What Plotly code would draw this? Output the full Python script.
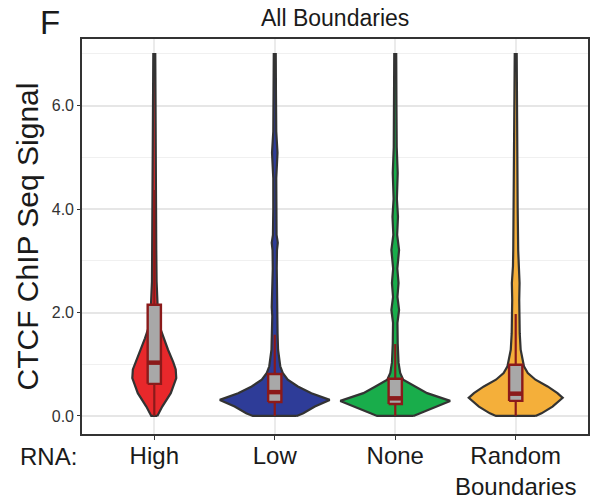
import plotly.graph_objects as go

# Categories and fill colours
categories = ["High", "Low", "None", "Random<br>Boundaries"]
colors = ["#E8282B", "#2E3C98", "#19AD4B", "#F4AF3A"]

# Kernel density profiles of the CTCF signal (relative density per signal level)
high_levels = [0, 0.18, 0.44, 0.73, 0.9, 1.04, 1.28, 1.5, 1.73, 2.15, 2.6, 3.2, 4.5, 5.5, 7.0]
high_density = [0.055, 0.145, 0.30, 0.40, 0.39, 0.345, 0.25, 0.17, 0.096, 0.06, 0.042, 0.036, 0.027, 0.022, 0.018]

low_levels = [0, 0.05, 0.18, 0.31, 0.44, 0.57, 0.70, 0.83, 0.96, 1.28, 1.6, 1.93, 2.1, 2.3, 2.57, 2.85,
              3.2, 3.35, 3.5, 4.0, 4.6, 5.09, 5.5, 6.2, 7.0]
low_density = [0.40, 0.52, 0.73, 1.0, 0.667, 0.42, 0.236, 0.145, 0.10, 0.06, 0.051, 0.045, 0.055, 0.04,
               0.045, 0.036, 0.04, 0.055, 0.033, 0.027, 0.027, 0.05, 0.027, 0.022, 0.018]

none_levels = [0, 0.05, 0.18, 0.29, 0.44, 0.57, 0.70, 0.83, 1.03, 1.4, 1.8, 2.05, 2.3, 2.57, 2.85,
               3.21, 3.5, 3.85, 4.2, 4.7, 5.2, 6.0, 7.0]
none_density = [0.33, 0.45, 0.76, 1.0, 0.58, 0.36, 0.145, 0.09, 0.06, 0.045, 0.04, 0.07, 0.04, 0.06, 0.038,
                0.07, 0.035, 0.05, 0.03, 0.045, 0.027, 0.022, 0.018]

random_levels = [0, 0.05, 0.18, 0.35, 0.44, 0.57, 0.70, 0.83, 0.96, 1.09, 1.28, 1.6, 1.9, 2.24, 2.57,
                 2.9, 3.2, 4.0, 5.0, 6.0, 7.0]
random_density = [0.36, 0.47, 0.67, 0.855, 0.76, 0.58, 0.36, 0.22, 0.15, 0.12, 0.09, 0.073, 0.064, 0.064,
                  0.07, 0.05, 0.045, 0.036, 0.027, 0.022, 0.018]

# Box-plot summaries
q1 = [0.62, 0.27, 0.23, 0.29]
median = [1.03, 0.46, 0.34, 0.43]
q3 = [2.15, 0.81, 0.72, 0.99]
lower_whisker = [0.0, 0.0, 0.0, 0.0]
upper_whisker = [4.37, 1.57, 1.39, 1.97]

levels = [high_levels, low_levels, none_levels, random_levels]
densities = [high_density, low_density, none_density, random_density]

VIOLIN_HALF_WIDTH = 0.456
BOX_WIDTH = 0.11
BOX_LINE = "#8B1A1A"

fig = go.Figure()

# violins
for i, (lv, dn, col) in enumerate(zip(levels, densities, colors)):
    pos = i + 1
    right = [pos + d * VIOLIN_HALF_WIDTH for d in dn]
    left = [pos - d * VIOLIN_HALF_WIDTH for d in dn]
    xs = right + left[::-1] + [right[0]]
    ys = lv + lv[::-1] + [lv[0]]
    fig.add_trace(go.Scatter(
        x=xs, y=ys, mode="lines", fill="toself", fillcolor=col,
        line=dict(color="#333333", width=2.2), hoverinfo="skip", showlegend=False,
    ))

# boxes drawn on top of the violins
for i in range(len(categories)):
    pos = i + 1
    x0, x1 = pos - BOX_WIDTH / 2, pos + BOX_WIDTH / 2
    # whiskers
    fig.add_trace(go.Scatter(
        x=[pos, pos, None, pos, pos],
        y=[q3[i], upper_whisker[i], None, q1[i], lower_whisker[i]],
        mode="lines", line=dict(color=BOX_LINE, width=2.2), hoverinfo="skip", showlegend=False,
    ))
    # interquartile box
    fig.add_trace(go.Scatter(
        x=[x0, x1, x1, x0, x0], y=[q1[i], q1[i], q3[i], q3[i], q1[i]],
        mode="lines", fill="toself", fillcolor="#A8A8A8",
        line=dict(color=BOX_LINE, width=2.4), hoverinfo="skip", showlegend=False,
    ))
    # median bar
    fig.add_trace(go.Scatter(
        x=[x0, x1], y=[median[i], median[i]],
        mode="lines", line=dict(color=BOX_LINE, width=4.5), hoverinfo="skip", showlegend=False,
    ))

font_family = "Liberation Sans, Arial, sans-serif"

fig.update_layout(
    width=593, height=503,
    margin=dict(l=82, r=5, t=39, b=69),
    paper_bgcolor="white", plot_bgcolor="white",
    font=dict(family=font_family, color="#1a1a1a"),
    xaxis=dict(
        range=[0.4, 4.6], tickmode="array", tickvals=[1, 2, 3, 4], ticktext=categories,
        showgrid=True, gridcolor="#EBEBEB", gridwidth=1.5,
        showline=True, linecolor="#333333", linewidth=1.6, mirror=True,
        ticks="outside", ticklen=4, tickcolor="#333333", tickwidth=1,
        ticklabelstandoff=-5,
        tickfont=dict(size=24, color="#1a1a1a"), zeroline=False, automargin=False,
    ),
    yaxis=dict(
        range=[-0.35, 7.29], tickmode="array", tickvals=[0, 2, 4, 6],
        ticktext=["0.0", "2.0", "4.0", "6.0"],
        showgrid=True, gridcolor="#E6E6E6", gridwidth=1.5,
        minor=dict(tickmode="array", tickvals=[1, 3, 5, 7], showgrid=True,
                   gridcolor="#F0F0F0", gridwidth=1),
        showline=True, linecolor="#333333", linewidth=1.6, mirror=True,
        ticks="outside", ticklen=3, tickcolor="#333333", tickwidth=1,
        tickfont=dict(size=16, color="#333333"), zeroline=False, automargin=False,
        title=dict(text="CTCF ChIP Seq Signal", font=dict(size=30, color="#1a1a1a"), standoff=4),
    ),
    annotations=[
        dict(text="All Boundaries", x=0.5, y=1.0, xref="paper", yref="paper",
             xanchor="center", yanchor="bottom", yshift=6, showarrow=False,
             font=dict(size=23, color="#1a1a1a")),
        dict(text="F", x=-0.063, y=1.0, xref="paper", yref="paper",
             xanchor="center", yanchor="bottom", yshift=-4, showarrow=False,
             font=dict(size=33, color="#1a1a1a")),
        dict(text="RNA:", x=-0.067, y=-0.056, xref="paper", yref="paper",
             xanchor="center", yanchor="middle", showarrow=False,
             font=dict(size=24, color="#1a1a1a")),
    ],
)

fig.write_html("out.html")
